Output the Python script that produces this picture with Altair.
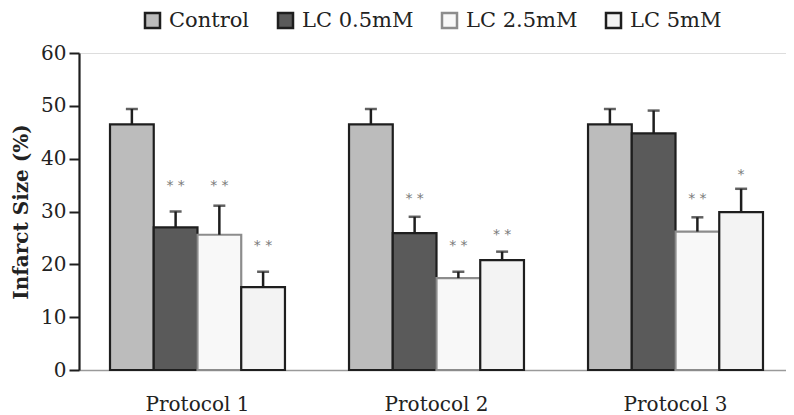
import altair as alt
import pandas as pd

protocols = ["Protocol 1", "Protocol 2", "Protocol 3"]
groups = ["Control", "LC 0.5mM", "LC 2.5mM", "LC 5mM"]

means = {
    "Protocol 1": [46.5, 27.0, 25.6, 15.7],
    "Protocol 2": [46.5, 25.9, 17.4, 20.8],
    "Protocol 3": [46.5, 44.8, 26.2, 29.9],
}
err_top = {
    "Protocol 1": [49.4, 30.0, 31.1, 18.6],
    "Protocol 2": [49.4, 29.0, 18.6, 22.4],
    "Protocol 3": [49.4, 49.1, 28.9, 34.3],
}
stars = {
    "Protocol 1": ["", "* *", "* *", "* *"],
    "Protocol 2": ["", "* *", "* *", "* *"],
    "Protocol 3": ["", "", "* *", "*"],
}
star_level = {
    "Protocol 1": [0, 34.8, 34.8, 23.4],
    "Protocol 2": [0, 32.4, 23.4, 25.6],
    "Protocol 3": [0, 0, 32.4, 36.9],
}

fill_colors = ["#bcbcbc", "#5a5a5a", "#f8f8f8", "#f3f3f3"]
stroke_colors = ["#1e1e1e", "#1e1e1e", "#8c8c8c", "#1e1e1e"]

rows = []
for p in protocols:
    for i, g in enumerate(groups):
        rows.append({
            "protocol": p, "group": g, "mean": means[p][i],
            "err": err_top[p][i], "star": stars[p][i], "star_y": star_level[p][i],
        })
df = pd.DataFrame(rows)

FONT = "DejaVu Serif"

x_enc = alt.X("protocol:N", sort=protocols,
              scale=alt.Scale(paddingInner=0.268, paddingOuter=0.113, align=0.574),
              axis=alt.Axis(title=None, labelAngle=0, ticks=False, domainColor="#9a9a9a",
                            domainWidth=1.5, labelFont=FONT, labelFontSize=20,
                            labelColor="#222222", labelPadding=24))
xo_enc = alt.XOffset("group:N", sort=groups,
                     scale=alt.Scale(paddingInner=0, paddingOuter=0))

base = alt.Chart(df)

bars = base.mark_bar(strokeWidth=2.2).encode(
    x=x_enc,
    xOffset=xo_enc,
    y=alt.Y("mean:Q", scale=alt.Scale(domain=[0, 60]),
            axis=alt.Axis(title="Infarct Size (%)", values=[0, 10, 20, 30, 40, 50, 60],
                          grid=False, domainColor="#1e1e1e", domainWidth=2.2,
                          tickColor="#1e1e1e", tickWidth=2, tickSize=10,
                          labelFont=FONT, labelFontSize=20, labelColor="#222222",
                          labelPadding=3, titleFont=FONT, titleFontSize=20,
                          titleFontWeight="bold", titleColor="#222222",
                          titleX=-58, titleBaseline="middle")),
    fill=alt.Fill("group:N", sort=groups,
                  scale=alt.Scale(domain=groups, range=fill_colors),
                  legend=alt.Legend(title=None, orient="none", legendX=63, legendY=-43,
                                    direction="horizontal", columns=4,
                                    symbolType="square", symbolSize=225,
                                    symbolStrokeWidth=2.5, labelFont=FONT,
                                    labelFontSize=21, labelColor="#222222",
                                    labelOffset=6, columnPadding=23)),
    stroke=alt.Stroke("group:N", sort=groups,
                      scale=alt.Scale(domain=groups, range=stroke_colors)),
)

err_rule = base.mark_rule(color="#1e1e1e", strokeWidth=2.5).encode(
    x=x_enc, xOffset=xo_enc, y="mean:Q", y2="err:Q",
)
err_cap = base.mark_tick(color="#1e1e1e", thickness=2.5, size=12,
                         orient="horizontal").encode(
    x=x_enc, xOffset=xo_enc, y="err:Q",
)
star_text = base.transform_filter("datum.star != ''").mark_text(
    font="DejaVu Sans", fontSize=14, color="#7a7a7a", baseline="middle"
).encode(
    x=x_enc, xOffset=xo_enc, y="star_y:Q", text="star:N",
)

chart = alt.layer(bars, err_rule, err_cap, star_text).properties(
    width=707, height=317,
    autosize=alt.AutoSizeParams(type="none"),
    padding={"left": 71, "top": 45, "right": 0, "bottom": 45},
).configure_view(stroke=None).configure(background="white")

chart.save("out.html", embed_options={"renderer": "svg", "actions": False})
